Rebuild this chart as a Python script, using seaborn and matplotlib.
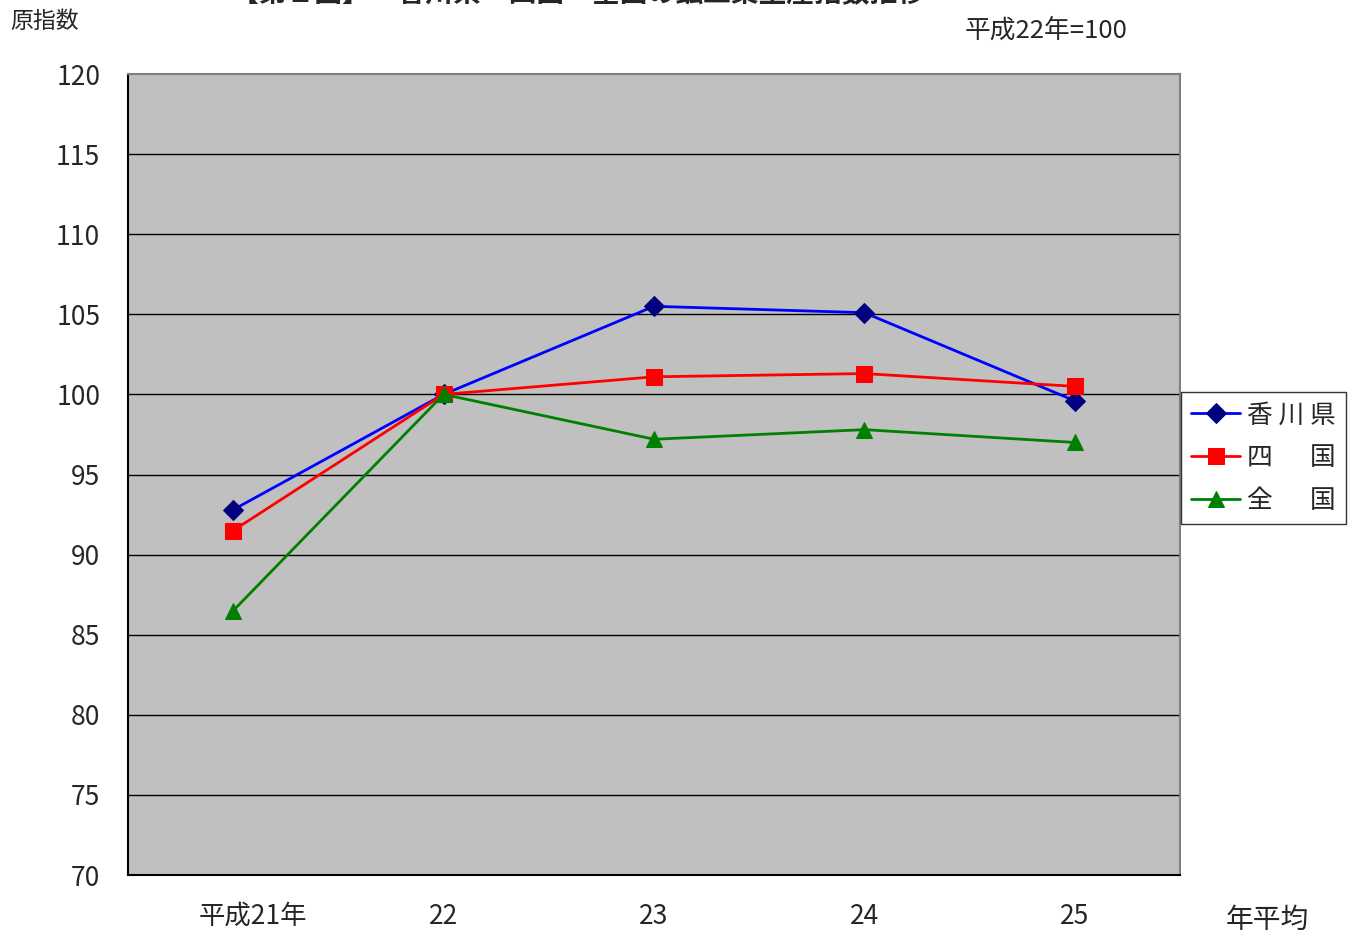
import matplotlib
matplotlib.use("Agg")
import matplotlib.pyplot as plt
import matplotlib.transforms as mtransforms
import seaborn as sns
import pandas as pd

categories = ["平成21年", "22", "23", "24", "25"]
kagawa = [92.8, 100.0, 105.5, 105.1, 99.6]
shikoku = [91.5, 100.0, 101.1, 101.3, 100.5]
zenkoku = [86.5, 100.0, 97.2, 97.8, 97.0]
series_names = ["香 川 県", "四 　 国", "全 　 国"]
yticks = [70, 75, 80, 85, 90, 95, 100, 105, 110, 115, 120]

sns.set_theme(style="white")
plt.rcParams['font.family'] = ['Noto Sans CJK JP', 'DejaVu Sans']

fig = plt.figure(figsize=(13.53, 9.36), dpi=100)
W, H = 1353, 936
ax = fig.add_axes([128 / W, 1 - 875 / H, (1180 - 128) / W, (875 - 74) / H])
ax.set_facecolor("#C0C0C0")

pos = list(range(len(categories)))
styles = [
    (kagawa, "#0000FF", "#000080", "D", 10),
    (shikoku, "#FF0000", "#FF0000", "s", 11),
    (zenkoku, "#008000", "#008000", "^", 11),
]
handles = []
for (vals, lc, mc, mk, ms), name in zip(styles, series_names):
    df = pd.DataFrame({"x": pos, "y": vals})
    sns.lineplot(data=df, x="x", y="y", ax=ax, color=lc, lw=2,
                 marker=mk, markersize=ms, markerfacecolor=mc,
                 markeredgecolor=mc, label=name, legend=False)
    handles.append(ax.lines[-1])

ax.set_xlim(-0.5, len(categories) - 0.5)
ax.set_ylim(70, 120)
ax.set_yticks(yticks)
ax.set_yticklabels([str(v) for v in yticks], fontsize=19)
for v in yticks[1:-1]:
    ax.axhline(v, color="black", lw=1, zorder=0.5)

ax.set_xticks(pos)
ax.set_xticklabels(categories, fontsize=19)
ax.set_xticks([p + 0.5 for p in pos[:-1]], minor=True)
ax.tick_params(axis="x", which="major", length=0, pad=20)
ax.tick_params(axis="x", which="minor", direction="in", length=10, width=1, color="#333333")
ax.tick_params(axis="y", length=0, pad=20)
ax.set_xlabel("")
ax.set_ylabel("")
first = ax.get_xticklabels()[0]
first.set_transform(first.get_transform() + mtransforms.ScaledTranslation(20 / 100, 0, fig.dpi_scale_trans))

for s in ["left", "bottom"]:
    ax.spines[s].set_color("black")
    ax.spines[s].set_linewidth(1.5)
for s in ["top", "right"]:
    ax.spines[s].set_color("#808080")
    ax.spines[s].set_linewidth(1.5)

leg = ax.legend(handles=handles, labels=series_names, loc="upper left",
                bbox_to_anchor=(1181 / W, 1 - 392 / H), bbox_transform=fig.transFigure,
                fontsize=18.5, frameon=True, fancybox=False, edgecolor="black",
                handlelength=1.9, handletextpad=0.25, labelspacing=0.66,
                borderpad=0.4, borderaxespad=0)
leg.get_frame().set_linewidth(1)
leg.get_frame().set_facecolor("white")

fig.text(10 / W, 1 - 21 / H, "原指数", fontsize=16.5, va="center", ha="left")
fig.text(1046 / W, 1 - 31 / H, "平成22年=100", fontsize=18.5, va="center", ha="center")
fig.text(1267 / W, 1 - 920 / H, "年平均", fontsize=20, va="center", ha="center")
fig.text(578 / W, 1 + 6 / H, "【第１図】　香川県・四国・全国の鉱工業生産指数推移",
         fontsize=20, fontweight="bold", va="center", ha="center")

fig.savefig("out.png", dpi=100)
